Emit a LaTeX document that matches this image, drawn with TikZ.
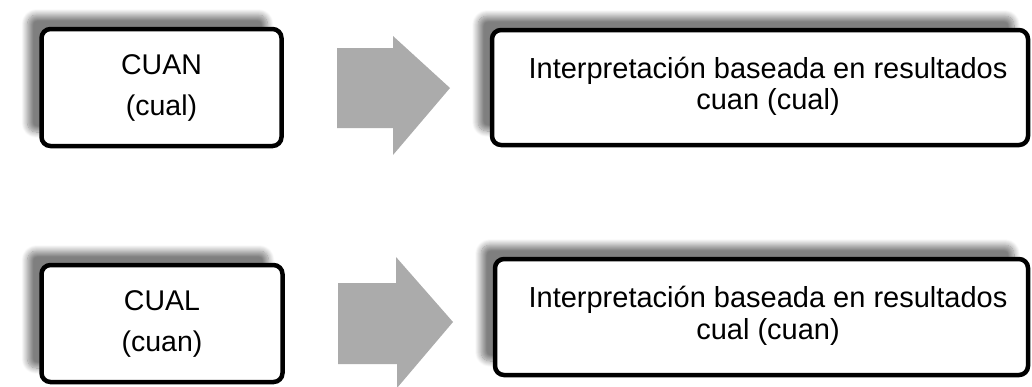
\documentclass[tikz,border=0pt]{standalone}
\usepackage{fontspec}
\setmainfont{Liberation Sans}
\usetikzlibrary{shadows.blur}

\definecolor{arrowgray}{HTML}{ABABAB}

\tikzset{
  card/.style={draw=black, line width=4.5pt, rounded corners=9pt, fill=white,
    inner sep=0pt,
    blur shadow={shadow xshift=-14pt, shadow yshift=14pt,
      shadow blur radius=6pt, shadow blur steps=12, shadow opacity=50}},
  bigtxt/.style={align=center, inner sep=0pt,
    font=\fontsize{28.5}{41}\selectfont},
  smalltxt/.style={align=center, inner sep=0pt,
    font=\fontsize{29}{31.5}\selectfont},
  blockarrow/.style={fill=arrowgray, draw=none}
}

\begin{document}
\begin{tikzpicture}[x=1pt, y=-1pt]
  \useasboundingbox (0,0) rectangle (1032,386);

  % upper row
  \node[card, minimum width=240pt, minimum height=117pt] (src1) at (161.5,87.5) {};
  \node[bigtxt] (src1t) at (src1.center) {CUAN\\(cual)};
  \fill[blockarrow] (337,48) -- (393,48) -- (393,36) -- (450,88)
    -- (393,155) -- (393,128) -- (337,128) -- cycle;
  \node[card, minimum width=536pt, minimum height=115pt] (res1) at (760,87.5) {};
  \node[smalltxt] (res1t) at (768,86.5) {Interpretación baseada en resultados\\cuan (cual)};

  % lower row
  \node[card, minimum width=241pt, minimum height=117pt] (src2) at (162,323.5) {};
  \node[bigtxt] (src2t) at (src2.center) {CUAL\\(cuan)};
  \fill[blockarrow] (338,283) -- (396,283) -- (396,257) -- (453,322)
    -- (397,388) -- (397,364) -- (338,364) -- cycle;
  \node[card, minimum width=533pt, minimum height=116pt] (res2) at (761.5,317) {};
  \node[smalltxt] (res2t) at (768,316) {Interpretación baseada en resultados\\cual (cuan)};
\end{tikzpicture}
\end{document}
